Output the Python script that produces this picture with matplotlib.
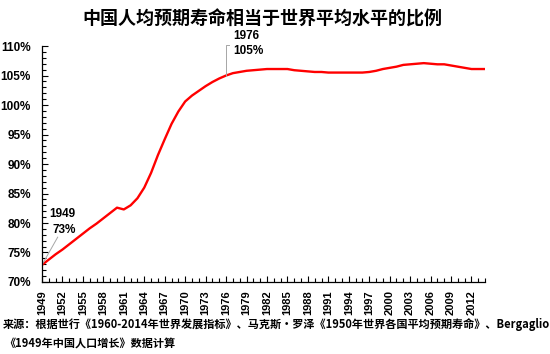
import matplotlib.pyplot as plt
import numpy as np

plt.rcParams['font.family'] = ['Noto Sans CJK SC', 'DejaVu Sans']

# 中国人均预期寿命 / 世界平均 (%)
years = list(range(1949, 2015))
ratio = [72.9, 73.8, 74.7, 75.5, 76.4, 77.3, 78.2, 79.1, 79.9, 80.8,
         81.7, 82.6, 82.3, 83.0, 84.2, 86.0, 88.5, 91.5, 94.2, 96.8,
         98.9, 100.6, 101.6, 102.4, 103.2, 103.9, 104.5, 105.0, 105.4, 105.6,
         105.8, 105.9, 106.0, 106.1, 106.1, 106.1, 106.1, 105.9, 105.8, 105.7,
         105.6, 105.6, 105.5, 105.5, 105.5, 105.5, 105.5, 105.5, 105.6, 105.8,
         106.1, 106.3, 106.5, 106.8, 106.9, 107.0, 107.1, 107.0, 106.9, 106.9,
         106.7, 106.5, 106.3, 106.1, 106.1, 106.1]
label_years = years[::3]
y_ticks = [70, 75, 80, 85, 90, 95, 100, 105, 110]

title = "中国人均预期寿命相当于世界平均水平的比例"
source_1 = "来源：根据世行《1960-2014年世界发展指标》、马克斯•罗泽《1950年世界各国平均预期寿命》、Bergaglio"
source_2 = "《1949年中国人口增长》数据计算"

num_font = ['Liberation Sans', 'DejaVu Sans']

fig = plt.figure(figsize=(5.5, 3.54), dpi=100)
ax = fig.add_axes([0.0764, 0.2034, 0.8056, 0.6666])

ax.plot(years, ratio, color='#ff0000', linewidth=1.7, solid_capstyle='round')

ax.set_xlim(years[0], years[-1])
ax.set_ylim(70, 110)

ax.set_yticks(y_ticks)
ax.set_yticklabels([f"{v}%" for v in y_ticks], fontsize=8.5, fontweight='bold',
                   family=num_font)
ax.set_yticks(np.arange(70, 111, 1), minor=True)
ax.set_xticks(label_years)
ax.set_xticklabels([str(y) for y in label_years], rotation=90, fontsize=8,
                   fontweight='bold', family=num_font)
ax.set_xticks(years, minor=True)

ax.tick_params(axis='both', which='both', direction='in', color='black', width=0.8)
ax.tick_params(axis='both', which='major', length=4)
ax.tick_params(axis='both', which='minor', length=3)
ax.tick_params(axis='y', pad=8)
ax.tick_params(axis='x', pad=6)

for side in ['top', 'right']:
    ax.spines[side].set_visible(False)
for side in ['left', 'bottom']:
    ax.spines[side].set_color('black')
    ax.spines[side].set_linewidth(0.9)

# 标注
i49 = years.index(1949)
i76 = years.index(1976)
lab = dict(fontsize=8.5, fontweight='bold', family=num_font, ha='left', va='bottom')

ax.plot([years[i49], 1951.3], [ratio[i49], 77.6], color='#a6a6a6', lw=0.7)
ax.text(1950.1, 80.5, str(years[i49]), **lab)
ax.text(1950.6, 77.8, f"{ratio[i49]:.0f}%", **lab)

ax.plot([years[i76], years[i76], years[i76] + 0.4],
        [ratio[i76], 110.2, 110.2], color='#a6a6a6', lw=0.7, clip_on=False)
ax.text(1977.1, 110.6, str(years[i76]), clip_on=False, **lab)
ax.text(1977.1, 108.1, f"{ratio[i76]:.0f}%", **lab)

fig.text(0.478, 0.946, title, ha='center', va='center', fontsize=13, fontweight='bold')
fig.text(0.005, 0.083, source_1, ha='left', va='center', fontsize=8, fontweight='bold')
fig.text(0.008, 0.03, source_2, ha='left', va='center', fontsize=8, fontweight='bold')

fig.savefig("out.png", dpi=100, facecolor='white')
